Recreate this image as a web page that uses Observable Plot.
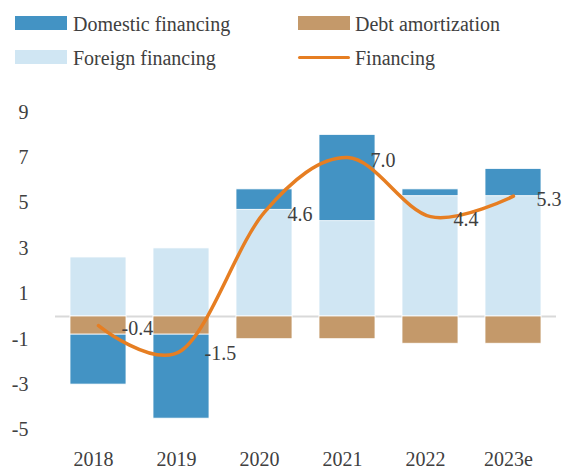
<!DOCTYPE html>
<html>
<head>
<meta charset="utf-8">
<script src="https://cdn.jsdelivr.net/npm/d3@7"></script>
<script src="https://cdn.jsdelivr.net/npm/@observablehq/plot@0.6"></script>
<style>
  body { margin: 0; background: #fff; font-family: "Times New Roman", "Liberation Serif", "DejaVu Serif", serif; color: #404040; }
  #wrap { position: relative; width: 563px; height: 469px; overflow: hidden; }
  #legend { position: relative; width: 563px; height: 90px; }
  .sw { position: absolute; width: 52px; height: 14px; }
  .ln { position: absolute; width: 52px; height: 3.5px; border-radius: 2px; }
  .lab { position: absolute; font-size: 20px; line-height: 20px; white-space: nowrap; }
</style>
</head>
<body>
<div id="wrap">
  <div id="legend"></div>
  <div id="chart"></div>
</div>
<script>
const years = ["2018", "2019", "2020", "2021", "2022", "2023e"];
const domestic = [-2.2, -3.7, 0.9, 3.8, 0.3, 1.2];
const foreign = [2.6, 3.0, 4.7, 4.2, 5.3, 5.3];
const debt = [-0.8, -0.8, -1.0, -1.0, -1.2, -1.2];
const financing = [-0.4, -1.5, 4.6, 7.0, 4.4, 5.3];
const yTicks = [-5, -3, -1, 1, 3, 5, 7, 9];

const seriesNames = ["Foreign financing", "Debt amortization", "Domestic financing"];
const seriesColors = ["#D0E6F3", "#C4996A", "#4393C4"];
const lineColor = "#E67E22";
const fontStack = "'Times New Roman', 'Liberation Serif', 'DejaVu Serif', serif";

const bars = [];
years.forEach((yr, i) => {
  bars.push({year: yr, series: "Foreign financing", value: foreign[i]});
  bars.push({year: yr, series: "Debt amortization", value: debt[i]});
  bars.push({year: yr, series: "Domestic financing", value: domestic[i]});
});
const line = years.map((yr, i) => ({year: yr, value: financing[i]}));

// Legend
const legend = document.getElementById("legend");
const items = [
  {name: "Domestic financing", color: seriesColors[2], type: "sw", left: 15, top: 16, tx: 73, ty: 14},
  {name: "Debt amortization", color: seriesColors[1], type: "sw", left: 298, top: 16, tx: 355, ty: 14},
  {name: "Foreign financing", color: seriesColors[0], type: "sw", left: 15, top: 50, tx: 73, ty: 48},
  {name: "Financing", color: lineColor, type: "ln", left: 298, top: 55.5, tx: 355, ty: 48}
];
for (const it of items) {
  const s = document.createElement("div");
  s.className = it.type;
  s.style.left = it.left + "px";
  s.style.top = it.top + "px";
  s.style.background = it.color;
  legend.appendChild(s);
  const t = document.createElement("div");
  t.className = "lab";
  t.style.left = it.tx + "px";
  t.style.top = it.ty + "px";
  t.textContent = it.name;
  legend.appendChild(t);
}

const chart = Plot.plot({
  width: 563,
  height: 379,
  marginLeft: 55,
  marginRight: 7,
  marginTop: 21.7,
  marginBottom: 39.5,
  style: {fontFamily: fontStack, fontSize: "20px", color: "#404040", background: "white"},
  x: {domain: years, paddingInner: 0.33, paddingOuter: 0.165, label: null},
  y: {domain: [-5, 9], label: null},
  color: {domain: seriesNames, range: seriesColors},
  marks: [
    Plot.ruleY([0], {stroke: "#D9D9D9", strokeWidth: 2}),
    Plot.barY(bars, Plot.stackY({
      x: "year", y: "value", z: "series", fill: "series",
      stroke: "white", strokeWidth: 0.8
    })),
    Plot.line(line, {x: "year", y: "value", stroke: lineColor, strokeWidth: 3.5, curve: "cardinal", strokeLinecap: "round"}),
    Plot.text(line, {x: "year", y: "value", text: d => d.value.toFixed(1), textAnchor: "start", dx: 23, dy: 3, fill: "#404040", fontSize: 20, fontFamily: fontStack}),
    Plot.axisY(yTicks, {tickSize: 0, tickPadding: 27, tickFormat: d => String(d), fontSize: 20, fill: "#404040", fontFamily: fontStack}),
    Plot.axisX({tickSize: 0, tickPadding: 22, dx: -5, fontSize: 20, fill: "#404040", fontFamily: fontStack})
  ]
});
document.getElementById("chart").appendChild(chart);
</script>
</body>
</html>
